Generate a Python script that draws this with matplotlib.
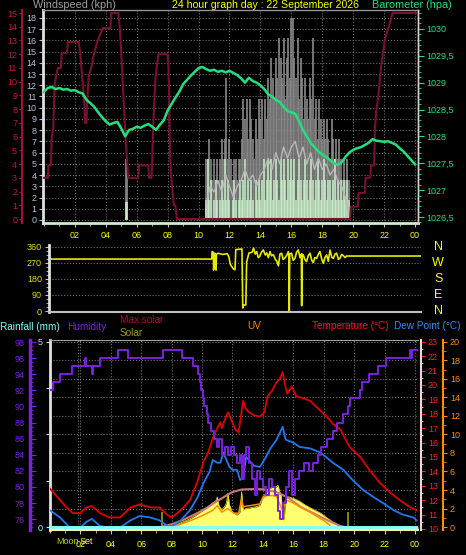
import numpy as np
import matplotlib
matplotlib.use("Agg")
import matplotlib.pyplot as plt
from matplotlib.ticker import MultipleLocator

plt.rcParams['font.family'] = ['Liberation Sans', 'DejaVu Sans']

# ---------------- dados ----------------
hour_ticks = list(range(2, 25, 2))
hour_labels = ['02', '04', '06', '08', '10', '12', '14', '16', '18', '20', '22', '00']

# vento (kph) - rajada / velocidade a cada 6 min entre 10:30 e 19:48
wind_t = np.linspace(10.5, 19.8, 94)
gust = [5.4, 5.4, 7.2, 5.4, 3.6, 5.4, 3.6, 5.4, 3.6, 5.4,
        7.2, 5.4, 7.2, 12.6, 5.4, 7.2, 5.4, 3.6, 5.4, 5.4,
        3.6, 5.4, 5.4, 7.2, 10.8, 9.0, 10.8, 7.2, 10.8, 9.0,
        7.2, 5.4, 9.0, 7.2, 10.8, 9.0, 10.8, 7.2, 10.8, 9.0,
        12.6, 10.8, 14.4, 12.6, 10.8, 14.4, 12.6, 16.2, 14.4, 12.6,
        16.2, 10.8, 14.4, 16.2, 12.6, 18.0, 18.0, 14.4, 12.6, 16.2,
        10.8, 14.4, 12.6, 9.0, 12.6, 10.8, 9.0, 12.6, 10.8, 16.2,
        9.0, 10.8, 7.2, 10.8, 9.0, 7.2, 9.0, 7.2, 9.0, 7.2,
        5.4, 9.0, 7.2, 5.4, 7.2, 5.4, 7.2, 5.4, 3.6, 5.4,
        3.6, 5.4, 3.6, 0.0]
speed = [1.8, 5.4, 1.8, 3.6, 0.0, 1.8, 3.6, 1.8, 0.0, 1.8,
         3.6, 1.8, 5.4, 1.8, 3.6, 1.8, 0.0, 1.8, 3.6, 1.8,
         0.0, 1.8, 3.6, 1.8, 3.6, 5.4, 1.8, 3.6, 1.8, 3.6,
         1.8, 0.0, 3.6, 1.8, 3.6, 1.8, 3.6, 5.4, 1.8, 3.6,
         5.4, 3.6, 5.4, 1.8, 3.6, 5.4, 3.6, 1.8, 5.4, 3.6,
         5.4, 3.6, 1.8, 5.4, 3.6, 5.4, 3.6, 5.4, 1.8, 3.6,
         5.4, 3.6, 1.8, 3.6, 5.4, 3.6, 1.8, 3.6, 5.4, 3.6,
         1.8, 3.6, 5.4, 3.6, 1.8, 3.6, 5.4, 3.6, 1.8, 3.6,
         3.6, 1.8, 3.6, 5.4, 1.8, 3.6, 1.8, 3.6, 1.8, 3.6,
         1.8, 3.6, 1.8, 0.0]
avg_t = np.linspace(10.5, 19.75, 38)
avg_wind = [1.5, 3.0, 2.5, 3.5, 2.5, 4.0, 3.0, 2.0, 3.0, 3.5,
            4.5, 3.5, 4.0, 3.0, 4.0, 4.5, 5.5, 4.5, 6.0, 5.0,
            6.5, 5.5, 6.5, 7.0, 5.5, 6.5, 5.0, 6.0, 4.5, 5.5,
            4.5, 5.0, 4.0, 4.5, 3.5, 3.0, 2.0, 0.5]
early_t = [5.3, 5.4]
early_gust = [5.4, 5.4]
early_speed = [1.6, 1.6]

# serie carmim (escala 0-15)
crim_t = [0, 0.25, 0.3, 0.45, 0.5, 0.6, 0.7, 0.9, 1.1, 1.15, 1.5, 1.55, 2.25, 2.35,
          2.5, 2.6, 2.65, 2.75, 2.8, 2.9, 3.1, 3.25, 3.45, 3.8, 4.3, 4.35, 4.8, 4.9,
          5.0, 5.15, 5.3, 5.45, 6.1, 6.15, 6.75, 6.8, 6.95, 7.0, 7.05, 7.2, 7.3, 7.4,
          8.0, 8.05, 8.1, 8.15, 8.25, 8.4, 8.5, 8.6, 19.8, 19.85, 20.3, 20.35, 20.75,
          20.8, 21.1, 21.15, 21.35, 21.4, 21.5, 21.6, 21.8, 22.05, 22.3, 22.55, 24.2]
crim_v = [3.0, 3.0, 3.9, 3.9, 5.9, 6.6, 9.9, 11.0, 11.0, 12.1, 12.1, 12.9, 12.9, 12.0,
          10.0, 8.7, 7.0, 7.0, 8.7, 10.4, 11.2, 12.1, 12.9, 13.9, 13.9, 15.0, 15.0, 14.0,
          12.1, 8.7, 5.5, 3.0, 3.0, 3.9, 3.9, 3.0, 3.0, 3.9, 6.3, 10.1, 11.1, 12.0,
          12.0, 11.1, 8.7, 4.8, 2.8, 1.0, 1.0, 0.0, 0.0, 0.9, 0.9, 1.9, 1.9,
          3.0, 3.0, 3.9, 3.9, 6.5, 8.0, 8.7, 11.1, 13.1, 14.0, 15.0, 15.0]

# barometro (hPa) a cada 15 min
baro_t = np.linspace(0, 24, 97)
baro = [1028.83, 1028.90, 1028.92, 1028.88,
        1028.90, 1028.87, 1028.88, 1028.85,
        1028.86, 1028.82, 1028.80, 1028.68,
        1028.62, 1028.55, 1028.45, 1028.36,
        1028.28, 1028.22, 1028.25, 1028.27,
        1028.15, 1028.00, 1028.12, 1028.14,
        1028.18, 1028.16, 1028.20, 1028.23,
        1028.18, 1028.12, 1028.22, 1028.30,
        1028.48, 1028.60, 1028.72, 1028.83,
        1028.97, 1029.05, 1029.13, 1029.20,
        1029.27, 1029.29, 1029.25, 1029.22,
        1029.24, 1029.20, 1029.22, 1029.19,
        1029.22, 1029.18, 1029.14, 1029.08,
        1029.00, 1029.09, 1029.03, 1029.00,
        1028.95, 1028.88, 1028.78, 1028.74,
        1028.68, 1028.64, 1028.55, 1028.47,
        1028.45, 1028.42, 1028.28, 1028.12,
        1028.00, 1027.88, 1027.80, 1027.72,
        1027.66, 1027.62, 1027.56, 1027.50,
        1027.47, 1027.52, 1027.62, 1027.70,
        1027.75, 1027.78, 1027.80, 1027.84,
        1027.88, 1027.95, 1027.92, 1027.91,
        1027.90, 1027.91, 1027.88, 1027.85,
        1027.78, 1027.72, 1027.64, 1027.56,
        1027.48]
baro_ticks = [1026.5, 1027, 1027.5, 1028, 1028.5, 1029, 1029.5, 1030]
baro_labels = ['1026,5', '1027', '1027,5', '1028', '1028,5', '1029', '1029,5', '1030']

# direcao do vento (graus)
dir_t = [0, 10.5, 10.52, 10.6, 10.62, 10.68, 10.7, 10.78, 10.8, 10.9,
         11.2, 11.5, 11.6, 11.7, 11.9, 12.0, 12.05, 12.45, 12.5, 12.55,
         12.7, 12.75, 12.9, 13.1, 13.2, 13.3, 13.4, 13.5, 13.6, 13.7,
         13.83, 13.95, 14.05, 14.15, 14.26, 14.35, 14.47, 14.6, 14.69, 14.8,
         14.9, 15.01, 15.1, 15.23, 15.35, 15.44, 15.47, 15.5, 15.53, 15.65,
         15.75, 15.87, 15.97, 16.08, 16.2, 16.28, 16.3, 16.33, 16.41, 16.5,
         16.62, 16.72, 16.84, 16.95, 17.05, 17.15, 17.27, 17.38, 17.48, 17.6,
         17.7, 17.8, 17.91, 18.02, 18.13, 18.25, 18.35, 18.45, 18.56, 18.67,
         18.77, 18.88, 18.99, 19.1, 19.2, 24]
dir_v = [292, 292, 334, 330, 230, 320, 325, 230, 318, 325,
         318, 322, 306, 262, 236, 232, 345, 349, 17, 34,
         34, 275, 326, 330, 354, 320, 334, 300, 308, 330,
         343, 315, 326, 300, 334, 310, 317, 290, 281, 254,
         320, 325, 290, 299, 315, 334, 310, 0, 320, 325,
         285, 296, 330, 343, 300, 320, 30, 320, 315, 290,
         278, 310, 325, 285, 272, 300, 296, 320, 334, 290,
         268, 300, 315, 280, 343, 300, 296, 320, 325, 290,
         296, 318, 311, 300, 309, 309]
compass = ['N', 'W', 'S', 'E', 'N']
compass_deg = [360, 270, 180, 90, 0]

# painel inferior
hum_t = [0, 0.2, 0.66, 1.45, 2.3, 2.35, 2.75, 2.8, 3.3, 4.5, 5.1, 7.4, 8.7, 9.4, 9.7,
         9.85, 9.95, 10.05, 10.15, 10.3, 10.4, 10.6, 10.8, 11.0, 11.1, 11.3, 11.5,
         11.7, 11.9, 12.1, 12.3, 12.5, 12.65, 12.75, 12.9, 13.1, 13.3, 13.45, 13.6,
         13.8, 14.0, 14.2, 14.4, 14.6, 14.8, 15.0, 15.1, 15.3, 15.5, 15.7, 15.9,
         16.1, 16.4, 16.7, 17.0, 17.3, 17.6, 17.8, 18.2, 18.6, 18.9, 19.3, 19.6,
         19.7, 20.4, 20.5, 21.0, 21.6, 22.1, 23.7, 23.75, 23.8, 24.2]
hum_v = [92, 93, 94, 95, 96, 95, 94, 95, 96, 97, 96, 97, 96, 95, 94,
         93, 92, 91, 90, 89, 88, 87, 86, 85, 86, 84, 85,
         84, 85, 84, 83, 84, 81, 84, 85, 83, 81, 79, 82,
         81, 80, 79, 81, 80, 79, 77, 76, 78, 80, 82, 79,
         81, 82, 83, 82, 83, 84, 85, 86, 87, 88, 89, 90,
         91, 92, 93, 94, 95, 96, 97, 96, 97, 97]

temp_t = [0, 0.5, 1.0, 1.5, 2.0, 2.4, 2.75, 3.3, 3.9, 4.6, 5.3, 5.9, 6.6, 7.2, 7.7,
          8.0, 8.6, 9.2, 9.7, 10.1, 10.4, 10.7, 11.0, 11.2, 11.3, 11.5, 11.7, 12.0,
          12.2, 12.4, 12.7, 12.9, 13.1, 13.4, 13.8, 14.1, 14.3, 14.6, 14.9, 15.1,
          15.3, 15.5, 15.6, 15.9, 16.2, 16.6, 17.1, 17.6, 18.2, 18.6, 19.1, 19.7,
          20.4, 21.0, 21.7, 22.4, 23.0, 23.7, 24.1]
temp_v = [12.8, 12.2, 11.6, 11.1, 11.1, 11.5, 11.6, 11.1, 10.8, 10.8, 11.5, 11.7, 11.5, 11.5, 11.0,
          10.8, 11.3, 12.0, 13.3, 14.7, 15.3, 16.3, 17.0, 17.4, 17.0, 17.6, 18.1, 17.4,
          16.9, 16.7, 18.9, 18.3, 18.1, 17.9, 17.8, 18.1, 19.2, 19.6, 20.2, 20.4,
          20.9, 19.8, 19.4, 19.9, 19.2, 19.1, 18.9, 18.4, 17.8, 17.3, 16.9, 15.7,
          15.0, 14.1, 13.2, 12.5, 12.0, 11.5, 11.3]

dew_t = [0, 0.66, 1.3, 2.0, 2.4, 2.75, 3.3, 3.9, 4.6, 5.3, 5.9, 6.6, 7.2, 7.9, 8.6,
         9.2, 9.7, 10.1, 10.5, 10.7, 11.0, 11.2, 11.4, 11.8, 12.0, 12.3, 12.5, 12.7,
         12.9, 13.4, 13.8, 14.2, 14.5, 14.9, 15.3, 15.5, 16.0, 16.4, 17.1, 17.8,
         18.6, 19.3, 19.9, 20.6, 21.3, 21.9, 22.6, 23.2, 23.9, 24.1]
dew_v = [11.3, 10.8, 10.1, 10.1, 10.5, 10.7, 10.2, 10.1, 10.1, 10.6, 10.9, 10.8, 10.6, 10.1, 10.6,
         11.3, 12.2, 13.2, 14.0, 14.8, 14.6, 14.6, 15.3, 14.3, 14.1, 14.1, 13.4, 13.6,
         15.0, 14.4, 14.3, 15.0, 15.6, 16.2, 17.1, 16.2, 16.0, 15.7, 15.6, 15.3,
         14.6, 14.1, 13.4, 12.7, 12.2, 11.8, 11.3, 11.0, 10.8, 10.6]

solar_t = [0, 7.7, 8.0, 8.4, 8.75, 9.1, 9.4, 9.75, 10.1, 10.4, 10.7,
           10.9, 11.0, 11.1, 11.3, 11.5, 11.6, 11.7, 11.8, 12.0, 12.3,
           12.5, 12.6, 12.7, 12.9, 13.1, 13.4, 13.6, 13.8, 14.0, 14.2,
           14.4, 14.6, 14.8, 15.0, 15.1, 15.2, 15.3, 15.4, 15.5, 15.7,
           16.0, 16.4, 16.8, 17.2, 17.8, 18.2, 18.6, 19.0, 19.3, 24.2]
solar_v = [0, 0, 20, 60, 110, 160, 215, 290, 370, 440, 520,
           560, 650, 470, 370, 450, 520, 730, 480, 310, 260,
           330, 760, 370, 400, 410, 430, 440, 470, 650, 730,
           820, 860, 850, 900, 760, 700, 260, 150, 640, 650,
           620, 560, 470, 400, 300, 200, 110, 40, 0, 0]
maxsolar_t = [0, 7.3, 8.0, 8.75, 9.5, 10.25, 11.0, 11.5, 12.0, 12.6, 13.3, 14.0, 14.9,
              15.7, 16.5, 17.3, 18.2, 19.1, 19.4, 24.2]
maxsolar_v = [0, 0, 60, 150, 270, 400, 560, 660, 756, 810, 820, 815, 756,
              626, 432, 302, 151, 20, 0, 0]
uv_t = [8.0, 8.75, 9.4, 10.1, 10.7, 11.0, 11.3, 11.7, 12.1, 12.4,
        12.6, 12.7, 13.1, 13.5, 13.8, 14.0, 14.3, 14.6, 14.9, 15.1,
        15.3, 15.5, 15.7, 16.0, 16.5, 17.0, 17.5, 18.0, 18.4]
uv_v = [0.0, 0.4, 0.8, 1.3, 1.8, 2.3, 1.6, 2.0, 1.5, 1.5,
        3.0, 2.2, 2.3, 2.4, 2.5, 3.2, 3.4, 3.4, 3.3, 2.5,
        1.8, 2.9, 2.8, 2.6, 2.1, 1.7, 1.2, 0.7, 0.2]
rain_t = [0, 24.2]
rain_v = [0, 0]
sun_t = [7.35, 19.6]      # nascer / por do sol
moonset = 1.84

W, H = 466, 555
PT = 0.72   # pontos por pixel (dpi 100)


def box(l, t, r, b):
    return [l / W, 1 - b / H, (r - l) / W, (b - t) / H]


def one_spine(ax, side, color, lw=1.0):
    for s in ax.spines.values():
        s.set_visible(False)
    ax.spines[side].set_visible(True)
    ax.spines[side].set_color(color)
    ax.spines[side].set_linewidth(lw)


fig = plt.figure(figsize=(W / 100, H / 100), dpi=100, facecolor='black')
grid_kw = dict(ls=':', color='#6e6e6e', lw=0.8)

# ---------- painel superior: vento / barometro ----------
ax1 = fig.add_axes(box(43, 10, 418, 223))
ax1.set_facecolor('black')
ax1.set_xlim(-0.06, 24.19)
ax1.set_ylim(-0.27, 18.7)
ax1.vlines(wind_t, 0, gust, color='#8a8a8a', lw=1.2)
ax1.vlines(early_t, 0, early_gust, color='#8a8a8a', lw=1.2)
ax1.vlines(wind_t, 0, speed, color='#c8f0c8', lw=1.1)
ax1.vlines(early_t, 0, early_speed, color='#c8f0c8', lw=1.1)
ax1.plot(avg_t, avg_wind, color='#b8b8b8', lw=1.0)
ax1.set_yticks(range(0, 19))
ax1.set_xticks(hour_ticks, hour_labels)
ax1.xaxis.set_minor_locator(MultipleLocator(1))
ax1.grid(True, which='major', **grid_kw)
ax1.tick_params(axis='y', colors='#b0c4de', labelsize=6.5, length=3, pad=1.5)
ax1.tick_params(axis='x', which='major', color='#c0c0c0', labelcolor='#ffff00',
                labelsize=6.5, length=3, pad=3)
ax1.tick_params(axis='x', which='minor', color='#c0c0c0', length=2)
for s, c, w in [('left', '#e0e0e0', 2), ('top', '#909090', 1),
                ('bottom', '#d0ecd0', 2), ('right', '#d0d0d0', 1)]:
    ax1.spines[s].set_color(c)
    ax1.spines[s].set_linewidth(w)

axc = ax1.twinx()
axc.set_ylim(-0.29, 15.22)
axc.plot(crim_t, crim_v, color='#7a1030', lw=1.5)
axc.yaxis.tick_left()
one_spine(axc, 'left', '#a0103c', 1.5)
axc.spines['left'].set_position(('outward', 21 * PT))
axc.set_yticks(range(0, 16))
axc.tick_params(axis='y', colors='#c8143c', labelsize=6.5, length=2, pad=1.5)

axb = ax1.twinx()
axb.set_ylim(1026.39, 1030.35)
axb.plot(baro_t, baro, color='#20e080', lw=1.8)
one_spine(axb, 'right', '#d0d0d0', 1)
axb.set_yticks(baro_ticks, baro_labels)
axb.yaxis.set_minor_locator(MultipleLocator(0.1))
axb.tick_params(axis='y', which='major', colors='#20e080', labelsize=6.5, length=4, pad=2)
axb.tick_params(axis='y', which='minor', colors='#20e080', length=2)

fig.text(33 / W, 1 - 5 / H, 'Windspeed (kph)', color='#a0a0a0', fontsize=7.8, va='center')
fig.text(172 / W, 1 - 5 / H, '24 hour graph day : 22 September 2026', color='#ffff00',
         fontsize=7.6, va='center')
fig.text(372 / W, 1 - 5 / H, 'Barometer (hpa)', color='#20e080', fontsize=7.8, va='center')

# ---------- painel do meio: direcao ----------
ax2 = fig.add_axes(box(49, 245, 421, 312))
ax2.set_facecolor('black')
ax2.set_xlim(0, 24)
ax2.set_ylim(-5.6, 371)
ax2.plot(dir_t, dir_v, color='#e8e800', lw=1.2)
ax2.set_yticks([0, 90, 180, 270, 360])
ax2.yaxis.set_minor_locator(MultipleLocator(22.5))
ax2.set_xticks([])
ax2.grid(True, axis='y', which='major', **grid_kw)
ax2.tick_params(axis='y', which='major', colors='#e0e000', labelsize=6.5, length=3, pad=2)
ax2.tick_params(axis='y', which='minor', colors='#e0e000', length=2)
for s in ['top', 'right']:
    ax2.spines[s].set_visible(False)
ax2.spines['left'].set_color('#e0e0e0')
ax2.spines['left'].set_linewidth(2)
ax2.spines['bottom'].set_color('#c0c0c0')
ax2.spines['bottom'].set_linewidth(1.5)
for lab, d in zip(compass, compass_deg):
    ax2.text(1.046, d, lab, color='#ffff00', fontsize=9, ha='center', va='center',
             transform=ax2.get_yaxis_transform())

# ---------- painel inferior ----------
ax3 = fig.add_axes(box(50, 340, 418, 530))
ax3.set_facecolor('black')
ax3.set_xlim(0, 24.2)
ax3.set_ylim(-0.08, 5.05)
ax3.set_yticks([0, 1.25, 2.5, 3.75, 5], ['0', '', '', '', '5'])
ax3.yaxis.set_minor_locator(MultipleLocator(0.5))
ax3.yaxis.remove_overlapping_locs = False
ax3.set_xticks(hour_ticks, hour_labels)
ax3.xaxis.set_minor_locator(MultipleLocator(1))
ax3.grid(True, axis='x', which='major', **grid_kw)
ax3.grid(True, axis='y', which='minor', **grid_kw)
ax3.axvline(moonset, **grid_kw)
ax3.tick_params(axis='y', which='major', colors='#80ffff', labelsize=6.5, length=3, pad=2)
ax3.tick_params(axis='y', which='minor', length=0)
ax3.tick_params(axis='x', which='major', color='#c0c0c0', labelcolor='#ffff00',
                labelsize=6.5, length=3, pad=4)
ax3.tick_params(axis='x', which='minor', color='#c0c0c0', length=2)
ax3.spines['right'].set_visible(False)
ax3.spines['left'].set_color('#e0e0e0')
ax3.spines['left'].set_linewidth(2)
ax3.spines['top'].set_color('#a0a0a0')
ax3.spines['bottom'].set_color('#e0e0e0')
ax3.spines['bottom'].set_linewidth(1.5)
xt = ax3.get_xaxis_transform()
ax3.text(moonset + 0.06, -0.063, 'Moon', color='#b8d400', fontsize=6.5, ha='right', va='center',
         transform=xt)
ax3.text(moonset + 0.1, -0.063, 'Set', color='#ffff00', fontsize=6.5, ha='left', va='center',
         transform=xt)

axs = ax3.twinx()
axs.set_ylim(-65, 4043)
axs.fill_between(solar_t, -65, solar_v, color='#ffff70', lw=0)
axs.plot(solar_t, solar_v, color='#e8d000', lw=0.6)
axs.plot(maxsolar_t, maxsolar_v, color='#c87878', lw=1.5)
axs.vlines(sun_t, 0, 330, color='#a0a000', lw=1.2)
axs.axis('off')

axu = ax3.twinx()
axu.set_ylim(-0.32, 20.2)
axu.plot(uv_t, uv_v, color='#ff8c00', lw=1.1)
one_spine(axu, 'right', '#ff8c00', 1.5)
axu.spines['right'].set_position(('outward', 25 * PT))
axu.set_yticks(range(0, 21, 2))
axu.yaxis.set_minor_locator(MultipleLocator(1))
axu.tick_params(axis='y', which='major', colors='#ff8c00', labelsize=6.5, length=3, pad=2)
axu.tick_params(axis='y', which='minor', colors='#ff8c00', length=2)

axt = ax3.twinx()
axt.set_ylim(9.93, 23.125)
axt.plot(dew_t, dew_v, color='#1e78f0', lw=1.3)
axt.plot(temp_t, temp_v, color='#e00000', lw=1.3)
one_spine(axt, 'right', '#f0d8d8', 1.5)
axt.spines['right'].set_position(('outward', 3 * PT))
axt.set_yticks(range(10, 24))
axt.yaxis.set_minor_locator(MultipleLocator(0.5))
axt.tick_params(axis='y', which='major', colors='#ff2020', labelsize=6.5, length=3, pad=2)
axt.tick_params(axis='y', which='minor', colors='#f0d8d8', length=1.5)

axh = ax3.twinx()
axh.set_ylim(74.65, 98.25)
axh.plot(hum_t, hum_v, color='#7a20e0', lw=1.4, drawstyle='steps-post')
axh.yaxis.tick_left()
one_spine(axh, 'left', '#7a20e0', 2.5)
axh.spines['left'].set_position(('outward', 20 * PT))
axh.set_yticks(range(76, 99, 2))
axh.yaxis.set_minor_locator(MultipleLocator(0.5))
axh.tick_params(axis='y', which='major', direction='in', colors='#7a20e0', labelsize=6.5,
                length=4, pad=4)
axh.tick_params(axis='y', which='minor', direction='in', colors='#7a20e0', length=2)

axr = ax3.twinx()
axr.set_ylim(-0.08, 5.05)
axr.plot(rain_t, rain_v, color='#80ffff', lw=2)
axr.axis('off')

# legendas do painel inferior
for x, y, s, c in [(0, 327, 'Rainfall (mm)', '#80ffff'), (67, 327, 'Humidity', '#7a20e0'),
                   (120, 320, 'Max solar', '#c00030'), (120, 333, 'Solar', '#a0a000'),
                   (247, 326, 'UV', '#ff8000'), (312, 326, 'Temperature (\u00b0C)', '#ff1010'),
                   (394, 326, 'Dew Point (\u00b0C)', '#1e90ff')]:
    fig.text(x / W, 1 - y / H, s, color=c, fontsize=7.2, va='center')

fig.savefig('out.png', dpi=100, facecolor='black')
